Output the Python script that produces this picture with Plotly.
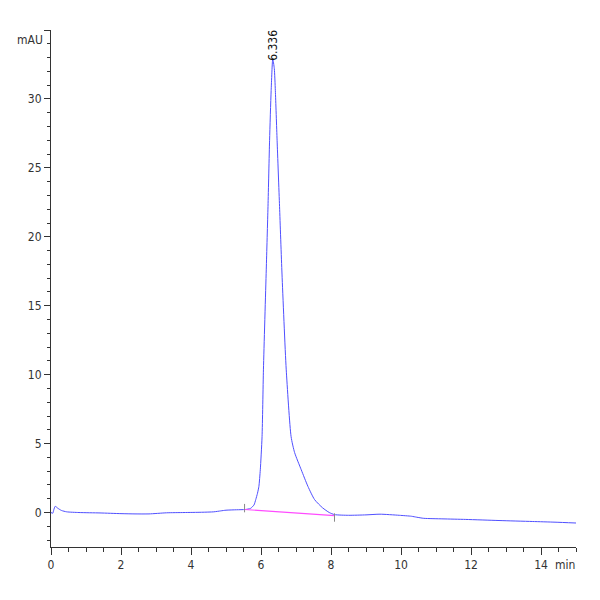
import plotly.graph_objects as go

# chromatogram trace (min, mAU)
time_min = [0.00, 0.05, 0.08, 0.12, 0.20, 0.30, 0.45, 0.80, 1.40, 2.00, 2.40,
            2.80, 3.30, 3.80, 4.30, 4.65, 4.85, 5.00, 5.30, 5.55, 5.70, 5.80,
            5.85, 5.90, 5.94, 5.98, 6.03, 6.07, 6.15, 6.20, 6.245, 6.29, 6.336,
            6.38, 6.41, 6.46, 6.53, 6.60, 6.72, 6.86, 6.96, 7.15, 7.34, 7.53,
            7.76, 7.95, 8.10, 8.50, 9.00, 9.40, 9.95, 10.30, 10.45, 10.65, 11.20,
            11.85, 12.80, 13.75, 14.40, 15.00]
signal_mau = [0.00, -0.05, 0.20, 0.45, 0.30, 0.15, 0.05, 0.00, -0.03, -0.08, -0.10,
              -0.10, -0.02, 0.00, 0.02, 0.05, 0.12, 0.17, 0.20, 0.22, 0.30, 0.55,
              0.94, 1.40, 1.90, 3.10, 5.50, 10.40, 17.60, 22.20, 27.00, 30.60, 32.90,
              32.20, 30.60, 27.00, 22.20, 17.30, 10.40, 5.50, 4.35, 3.10, 1.90, 0.94,
              0.34, 0.00, -0.15, -0.20, -0.17, -0.12, -0.20, -0.27, -0.34, -0.42, -0.46,
              -0.50, -0.58, -0.65, -0.70, -0.76]

# integration baseline and its start/end markers
base_time = [5.53, 8.10]
base_mau = [0.22, -0.22]
marker_mau = [0.32, -0.36]

peak_rt = 6.336
peak_height = 33.0

x_ticks = [0, 2, 4, 6, 8, 10, 12, 14]
y_ticks = [0, 5, 10, 15, 20, 25, 30, 35]
y_labels = ["0", "5", "10", "15", "20", "25", "30", ""]

FONT = "Liberation Sans Narrow, DejaVu Sans Condensed, Arial Narrow, sans-serif"
AXIS = "#333333"

fig = go.Figure()
fig.add_trace(go.Scatter(
    x=time_min, y=signal_mau, mode="lines",
    line=dict(color="#4f4fff", width=1, shape="spline", smoothing=0.6),
    hoverinfo="skip",
))
fig.add_trace(go.Scatter(
    x=base_time, y=base_mau, mode="lines",
    line=dict(color="#ff4cff", width=1.2),
    hoverinfo="skip",
))
fig.add_trace(go.Scatter(
    x=base_time, y=marker_mau, mode="markers",
    marker=dict(symbol="line-ns", size=6, line=dict(color="#888888", width=1)),
    hoverinfo="skip",
))

fig.add_annotation(
    x=peak_rt, y=peak_height, text=f"{peak_rt:.3f}", textangle=-90,
    showarrow=False, yanchor="bottom", xanchor="center", yshift=-5,
    font=dict(family=FONT, size=12, color="#111111"),
)
fig.add_annotation(
    x=0, y=0.981, xref="paper", yref="paper", text="mAU", showarrow=False,
    xanchor="right", yanchor="middle", xshift=-6,
    font=dict(family=FONT, size=12, color=AXIS),
)
fig.add_annotation(
    x=1.002, y=-0.035, xref="paper", yref="paper", text="min", showarrow=False,
    xanchor="right", yanchor="middle",
    font=dict(family=FONT, size=12, color=AXIS),
)

# the page adds 8px of body margin, so the plot box is shifted up/left by that
fig.update_layout(
    width=600, height=600,
    margin=dict(l=43, r=32, t=22, b=61),
    paper_bgcolor="white", plot_bgcolor="white",
    showlegend=False,
    font=dict(family=FONT, size=12, color=AXIS),
)
fig.update_xaxes(
    range=[0, 15], tickmode="array", tickvals=x_ticks,
    showline=True, linecolor=AXIS, linewidth=1, showgrid=False, zeroline=False,
    ticks="outside", ticklen=7, tickcolor=AXIS,
    minor=dict(tickmode="linear", tick0=0, dtick=0.5, ticks="outside",
               ticklen=4, tickcolor=AXIS, showgrid=False),
)
fig.update_yaxes(
    range=[-2.5, 35], tickmode="array", tickvals=y_ticks, ticktext=y_labels,
    showline=True, linecolor=AXIS, linewidth=1, showgrid=False, zeroline=False,
    ticks="outside", ticklen=6, tickcolor=AXIS,
    minor=dict(tickmode="linear", tick0=0, dtick=1, ticks="outside",
               ticklen=3, tickcolor=AXIS, showgrid=False),
)

fig.write_html("out.html")
